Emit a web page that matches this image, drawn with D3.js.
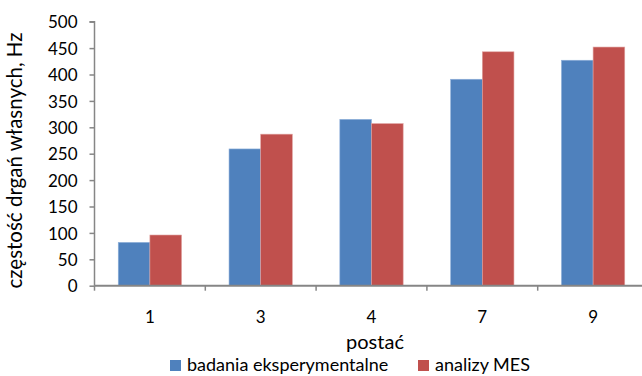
<!DOCTYPE html>
<html>
<head>
<meta charset="utf-8">
<script src="https://cdn.jsdelivr.net/npm/d3@7/dist/d3.min.js"></script>
<style>
  html, body { margin: 0; padding: 0; background: #fff; }
  svg { display: block; font-family: Lato, "Open Sans", sans-serif; }
</style>
</head>
<body>
<svg id="chart" width="642" height="376"></svg>
<script>
// Mode shapes (postać) and natural frequencies, Hz
const categories = ["1", "3", "4", "7", "9"];
const seriesNames = ["badania eksperymentalne", "analizy MES"];
const experimental = [82, 259, 315, 391, 427];
const fem = [96, 287, 307, 443, 452];
const yTicks = [0, 50, 100, 150, 200, 250, 300, 350, 400, 450, 500];
const colors = ["#4F81BD", "#C0504D"];

const svg = d3.select("#chart");
const plotL = 94.5, plotR = 648.5, plotT = 21.7, plotB = 285.7;
const axisColor = "#868686";

const x = d3.scaleBand().domain(categories).range([plotL, plotR]).paddingInner(0).paddingOuter(0);
const y = d3.scaleLinear().domain([0, 500]).range([plotB, plotT]);

// grouped bars: gap width 150% of a bar
const barW = x.bandwidth() / 3.5;
const xs = d3.scaleBand().domain(seriesNames).range([barW * 0.75, barW * 2.75]).padding(0);

const table = categories.map((c, i) => ({ cat: c, vals: [experimental[i], fem[i]] }));

const groups = svg.append("g").selectAll("g").data(table).join("g")
  .attr("transform", d => `translate(${x(d.cat)},0)`);

groups.selectAll("rect").data(d => d.vals.map((v, j) => ({ name: seriesNames[j], v, j })))
  .join("rect")
  .attr("x", d => xs(d.name))
  .attr("width", xs.bandwidth())
  .attr("y", d => y(d.v))
  .attr("height", d => y(0) - y(d.v))
  .attr("fill", d => colors[d.j])
  .attr("stroke", d => d.j === 0 ? "#8fb0da" : "#e0a3a1")
  .attr("stroke-width", 0.6);

// y axis
const yAxis = d3.axisLeft(y).tickValues(yTicks).tickSize(5).tickPadding(12);
const gy = svg.append("g").attr("transform", `translate(${plotL},0)`).call(yAxis);
gy.select(".domain").attr("stroke", axisColor).attr("stroke-width", 1.5).attr("d", `M-5,${plotT}H0V${plotB}`);
gy.selectAll(".tick line").attr("stroke", axisColor).attr("stroke-width", 1.5);
gy.selectAll(".tick text").attr("fill", "#000").style("font-size", "17px")
  .style("font-family", "Lato, sans-serif").attr("dy", "0.36em");

// x axis with ticks on category boundaries
const gx = svg.append("g").attr("transform", `translate(0,${plotB})`);
gx.append("line").attr("x1", plotL).attr("x2", plotR).attr("stroke", axisColor).attr("stroke-width", 2);
const bounds = categories.map(c => x(c)).concat([plotR]);
gx.selectAll(".bt").data(bounds).join("line")
  .attr("x1", d => d).attr("x2", d => d).attr("y1", 0).attr("y2", 5)
  .attr("stroke", axisColor).attr("stroke-width", 1.5);
gx.selectAll(".lbl").data(categories).join("text")
  .attr("x", d => x(d) + x.bandwidth() / 2).attr("y", 37.5)
  .attr("text-anchor", "middle").style("font-size", "17px").attr("fill", "#000")
  .text(d => d);

// axis titles
svg.append("text").attr("x", 375).attr("y", 348.5).attr("text-anchor", "middle")
  .style("font-size", "20px").text("postać");
svg.append("text").attr("transform", "translate(22,160.5) rotate(-90)")
  .attr("text-anchor", "middle").style("font-size", "20.5px").text("częstość drgań własnych, Hz");

// legend
const legend = svg.append("g").attr("transform", "translate(0,371)");
const legX = [170, 418];
seriesNames.forEach((n, i) => {
  legend.append("rect").attr("x", legX[i]).attr("y", -11).attr("width", 11).attr("height", 11).attr("fill", colors[i]);
  legend.append("text").attr("x", legX[i] + 17).attr("y", 0)
    .style("font-size", "18px").text(n);
});
</script>
</body>
</html>
